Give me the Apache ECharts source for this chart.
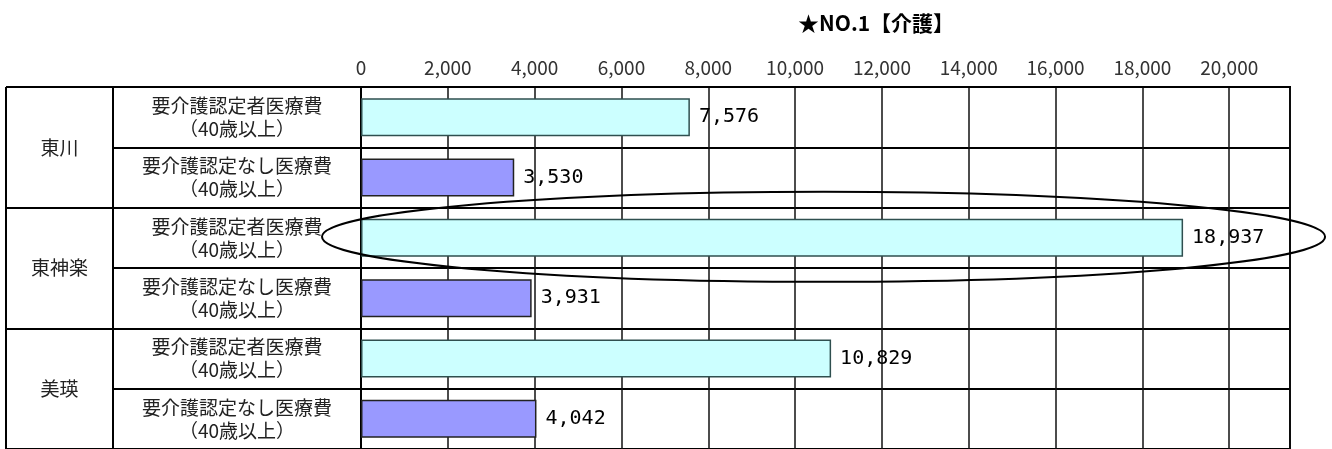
<!DOCTYPE html>
<html>
<head>
<meta charset="utf-8">
<script src="https://cdn.jsdelivr.net/npm/echarts@6/dist/echarts.min.js"></script>
<style>
  html, body { margin: 0; padding: 0; background: #fff; }
  #chart { width: 1332px; height: 449px; }
</style>
</head>
<body>
<div id="chart"></div>
<script>
// Regions and the two kinds of medical cost shown for each
const regions = ['東川', '東神楽', '美瑛'];
const rowLabels = ['要介護認定者医療費\n（40歳以上）', '要介護認定なし医療費\n（40歳以上）'];
// Medical cost per person (yen), age 40 and over
const certifiedCost = [7576, 18937, 10829];
const notCertifiedCost = [3530, 3931, 4042];
const axisTicks = [0, 2000, 4000, 6000, 8000, 10000, 12000, 14000, 16000, 18000, 20000];
const title = '★NO.1【介護】';
const highlightRegion = '東神楽';

const FONT = '"Noto Sans CJK JP", "Noto Sans", sans-serif';
const MONO = '"DejaVu Sans Mono", "Liberation Mono", monospace';

// One category row per region × cost kind
const categories = [];
regions.forEach(r => rowLabels.forEach((l, i) => categories.push(r + '|' + i)));

const certifiedData = categories.map(c => {
  const [r, i] = c.split('|');
  return i === '0' ? certifiedCost[regions.indexOf(r)] : '-';
});
const notCertifiedData = categories.map(c => {
  const [r, i] = c.split('|');
  return i === '1' ? notCertifiedCost[regions.indexOf(r)] : '-';
});

const chart = echarts.init(document.getElementById('chart'), null, { renderer: 'canvas' });

const gridLeft = 361, gridTop = 87, rowH = 60.8;
const tableLeft = 6, colDivider = 113;

const valueLabel = {
  show: true,
  position: 'right',
  distance: 9,
  fontFamily: MONO,
  fontSize: 20,
  color: '#000',
  formatter: p => Number(p.value).toLocaleString('en-US')
};

chart.setOption({
  animation: false,
  title: {
    text: title,
    left: 793,
    top: 8,
    textStyle: { fontFamily: FONT, fontSize: 21, fontWeight: 'bold', color: '#000' }
  },
  grid: {
    left: gridLeft,
    top: gridTop,
    right: 42,
    height: rowH * categories.length,
    show: true,
    borderColor: '#000',
    borderWidth: 2,
    backgroundColor: 'transparent'
  },
  xAxis: {
    type: 'value',
    position: 'top',
    min: axisTicks[0],
    max: 21400,
    interval: axisTicks[1] - axisTicks[0],
    axisLine: { show: true, lineStyle: { color: '#000', width: 2 } },
    axisTick: { show: false },
    axisLabel: {
      showMaxLabel: false,
      margin: 10,
      fontFamily: FONT,
      fontSize: 19,
      color: '#333',
      formatter: v => axisTicks.includes(v) ? v.toLocaleString('en-US') : ''
    },
    splitLine: { show: true, lineStyle: { color: '#111', width: 1.5 } }
  },
  yAxis: [
    {
      type: 'category',
      inverse: true,
      data: categories,
      axisLine: { show: true, lineStyle: { color: '#000', width: 2 } },
      axisTick: { show: true, length: gridLeft - colDivider, lineStyle: { color: '#000', width: 2 } },
      axisLabel: {
        margin: gridLeft - 237,
        align: 'center',
        fontFamily: FONT,
        fontSize: 19,
        lineHeight: 23,
        color: '#222',
        formatter: v => rowLabels[Number(v.split('|')[1])]
      },
      splitLine: { show: true, lineStyle: { color: '#000', width: 2 } }
    },
    {
      type: 'category',
      inverse: true,
      data: regions,
      position: 'left',
      axisLine: { show: false },
      axisTick: { show: true, length: gridLeft - tableLeft, lineStyle: { color: '#000', width: 2 } },
      axisLabel: {
        margin: gridLeft - 59.5,
        align: 'center',
        fontFamily: FONT,
        fontSize: 19,
        color: '#222'
      },
      splitLine: { show: false }
    }
  ],
  series: [
    {
      name: '要介護認定者医療費（40歳以上）',
      type: 'bar',
      yAxisIndex: 0,
      data: certifiedData,
      barWidth: 38,
      barGap: '-100%',
      itemStyle: { color: '#CCFFFF', borderColor: '#2f4f4f', borderWidth: 1.5 },
      label: valueLabel
    },
    {
      name: '要介護認定なし医療費（40歳以上）',
      type: 'bar',
      yAxisIndex: 0,
      data: notCertifiedData,
      barWidth: 38,
      barGap: '-100%',
      itemStyle: { color: '#9999FF', borderColor: '#222', borderWidth: 1.5 },
      label: valueLabel
    }
  ]
});

// Table frame lines on the left and the ring around the highlighted bar
const bottomY = 449 + 5;
const hiRow = categories.indexOf(highlightRegion + '|0');
const hiVal = certifiedCost[regions.indexOf(highlightRegion)];
const zeroPt = chart.convertToPixel({ xAxisIndex: 0, yAxisIndex: 0 }, [0, hiRow]);
const endPt = chart.convertToPixel({ xAxisIndex: 0, yAxisIndex: 0 }, [hiVal, hiRow]);
const ringLeft = zeroPt[0] - 39;
const ringRight = endPt[0] + 142;

chart.setOption({
  graphic: [
    {
      type: 'line',
      shape: { x1: tableLeft, y1: gridTop, x2: tableLeft, y2: bottomY },
      style: { stroke: '#000', lineWidth: 2 },
      z: 10
    },
    {
      type: 'line',
      shape: { x1: colDivider, y1: gridTop, x2: colDivider, y2: bottomY },
      style: { stroke: '#000', lineWidth: 2 },
      z: 10
    },
    {
      type: 'ellipse',
      shape: { cx: (ringLeft + ringRight) / 2, cy: zeroPt[1] - 1, rx: (ringRight - ringLeft) / 2, ry: 45 },
      style: { fill: null, stroke: '#000', lineWidth: 2 },
      z: 20
    }
  ]
});
</script>
</body>
</html>
